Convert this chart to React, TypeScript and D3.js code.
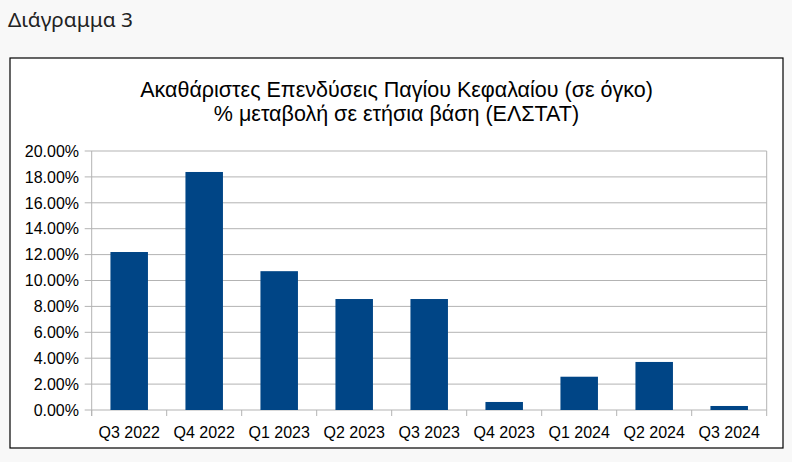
import React from "react";
import * as d3 from "d3";

const categories = ["Q3 2022", "Q4 2022", "Q1 2023", "Q2 2023", "Q3 2023", "Q4 2023", "Q1 2024", "Q2 2024", "Q3 2024"];
const values = [12.2, 18.38, 10.72, 8.57, 8.57, 0.62, 2.57, 3.71, 0.31];
const yTicks = [0, 2, 4, 6, 8, 10, 12, 14, 16, 18, 20];
const heading = "Διάγραμμα 3";
const titleLines = ["Ακαθάριστες Επενδύσεις Παγίου Κεφαλαίου (σε όγκο)", "% μεταβολή σε ετήσια βάση (ΕΛΣΤΑΤ)"];

export default function App() {
  const W = 792, H = 462;
  const left = 91.7, right = 766.7, top = 151, bottom = 410;
  const x = d3.scaleBand<string>().domain(categories).range([left, right]).paddingInner(0).paddingOuter(0);
  const y = d3.scaleLinear().domain([0, 20]).range([bottom, top]);
  const bw = x.bandwidth() * 0.5;
  const font = "'Liberation Sans', Arial, sans-serif";
  const grid = "#b3b3b3";
  return (
    <svg width={W} height={H} style={{ position: "fixed", top: 0, left: 0, display: "block" }}>
      <rect x={0} y={0} width={W} height={H} fill="#f8f8f8" />
      <text x={8} y={27} fontFamily="'Noto Sans', sans-serif" fontSize={20.8} fill="#222">{heading}</text>
      <rect x={10} y={58} width={773} height={390} fill="#ffffff" stroke="#000" strokeWidth={1.2} />
      {titleLines.map((t, i) => (
        <text key={i} x={396.5} y={97 + i * 24} textAnchor="middle" fontFamily={font} fontSize={21.5} fill="#000">{t}</text>
      ))}
      {yTicks.map((t) => (
        <g key={t}>
          <line x1={left - 7} x2={right} y1={y(t)} y2={y(t)} stroke={grid} strokeWidth={1} />
          <text x={79} y={y(t) + 5.7} textAnchor="end" fontFamily={font} fontSize={16} fill="#000">{t.toFixed(2) + "%"}</text>
        </g>
      ))}
      <line x1={left} x2={left} y1={top} y2={bottom + 6} stroke={grid} strokeWidth={1} />
      <line x1={right} x2={right} y1={top} y2={bottom + 6} stroke={grid} strokeWidth={1} />
      {categories.map((c, i) => (
        <line key={"t" + i} x1={x(c)!} x2={x(c)!} y1={bottom} y2={bottom + 6} stroke={grid} strokeWidth={1} />
      ))}
      {categories.map((c, i) => (
        <rect key={c} x={x(c)! + (x.bandwidth() - bw) / 2} y={y(values[i])} width={bw} height={bottom - y(values[i])} fill="#004586" />
      ))}
      {categories.map((c) => (
        <text key={"l" + c} x={x(c)! + x.bandwidth() / 2} y={437.5} textAnchor="middle" fontFamily={font} fontSize={16} fill="#000">{c}</text>
      ))}
    </svg>
  );
}
